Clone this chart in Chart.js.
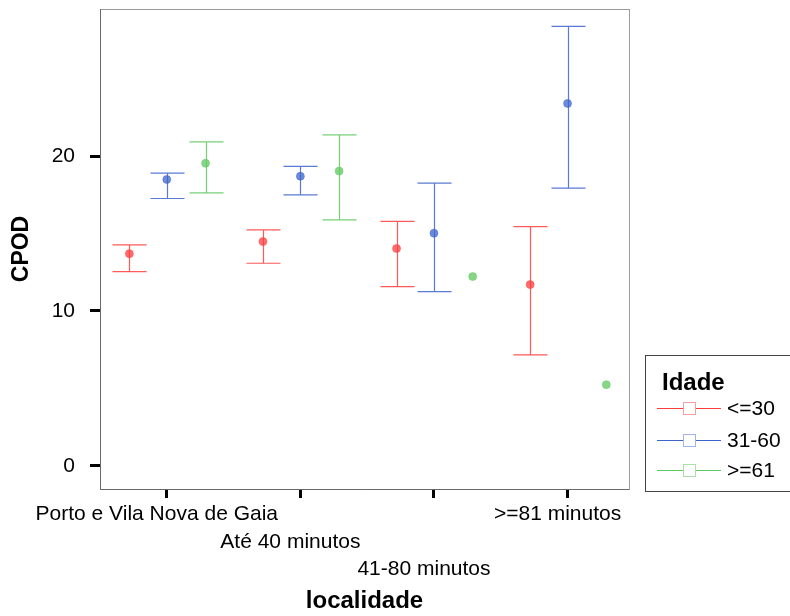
<!DOCTYPE html>
<html>
<head>
<meta charset="utf-8">
<script src="https://cdn.jsdelivr.net/npm/chart.js@4"></script>
<style>
  html, body { margin: 0; padding: 0; background: #fff; }
</style>
</head>
<body>
<canvas id="myChart" width="790" height="616"></canvas>
<script>
// categories on the x axis, and which text row each label sits on
const categories = ['Porto e Vila Nova de Gaia', 'Até 40 minutos', '41-80 minutos', '>=81 minutos'];
const labelRows = [0, 1, 2, 0];

// age groups (legend) and their colours
const groups = ['<=30', '31-60', '>=61'];
const groupColors = ['rgb(255,60,60)', 'rgb(60,100,205)', 'rgb(95,200,95)'];
const groupLight = ['rgb(245,160,160)', 'rgb(160,178,232)', 'rgb(170,222,170)'];

// CPOD means with lower / upper bounds of the interval
const mean30 = [13.70, 14.48, 14.03, 11.70];
const low30  = [12.54, 13.08, 11.57, 7.16];
const high30 = [14.27, 15.23, 15.79, 15.45];

const mean31 = [18.49, 18.70, 15.02, 23.40];
const low31  = [17.26, 17.50, 11.25, 17.93];
const high31 = [18.90, 19.33, 18.25, 28.38];

const mean61 = [19.54, 19.03, 12.22, 5.24];
const low61  = [17.63, 15.88, null, null];
const high61 = [20.92, 21.37, null, null];

const yTicks = [0, 10, 20];

const means = [mean30, mean31, mean61];
const lows = [low30, low31, low61];
const highs = [high30, high31, high61];
const groupOffset = [-0.28, 0, 0.29]; // dodge within each category

const FONT = 'Arial, "Liberation Sans", sans-serif';
Chart.defaults.font.family = FONT;
Chart.defaults.color = '#000';

function withAlpha(rgb, a) {
    return rgb.replace('rgb(', 'rgba(').replace(')', ',' + a + ')');
}

// grey box round the plot area
const frame = {
    id: 'frame',
    afterDraw(chart) {
        const {ctx, chartArea: a} = chart;
        ctx.save();
        ctx.lineWidth = 1;
        ctx.strokeStyle = '#9a9a9a';
        ctx.strokeRect(a.left + 0.5, a.top + 0.5, a.right - a.left, a.bottom - a.top);
        ctx.strokeStyle = '#6a6a6a';
        ctx.beginPath();
        ctx.moveTo(a.left + 0.5, a.top);
        ctx.lineTo(a.left + 0.5, a.bottom + 0.5);
        ctx.lineTo(a.right, a.bottom + 0.5);
        ctx.stroke();
        ctx.restore();
    }
};

// whiskers with caps, drawn under the points
const errorBars = {
    id: 'errorBars',
    beforeDatasetsDraw(chart) {
        const {ctx, scales: {x, y}} = chart;
        const cap = 17;
        ctx.save();
        ctx.lineWidth = 1.2;
        groups.forEach((g, d) => {
            ctx.strokeStyle = withAlpha(groupColors[d], 0.85);
            categories.forEach((c, i) => {
                if (lows[d][i] == null) return;
                const px = Math.round(x.getPixelForValue(i + groupOffset[d])) + 0.5;
                const y1 = y.getPixelForValue(lows[d][i]);
                const y2 = y.getPixelForValue(highs[d][i]);
                ctx.beginPath();
                ctx.moveTo(px, y1);
                ctx.lineTo(px, y2);
                ctx.moveTo(px - cap, y1);
                ctx.lineTo(px + cap, y1);
                ctx.moveTo(px - cap, y2);
                ctx.lineTo(px + cap, y2);
                ctx.stroke();
            });
        });
        ctx.restore();
    }
};

// boxed legend on the right: line with a hollow square
const boxLegend = {
    id: 'boxLegend',
    afterDraw(chart) {
        const ctx = chart.ctx;
        ctx.save();
        ctx.fillStyle = '#fff';
        ctx.fillRect(645, 355, 150, 137);
        ctx.strokeStyle = '#444';
        ctx.lineWidth = 1;
        ctx.strokeRect(645.5, 355.5, 150, 136);

        ctx.fillStyle = '#000';
        ctx.font = 'bold 24px ' + FONT;
        ctx.textBaseline = 'alphabetic';
        ctx.fillText('Idade', 662, 390);

        const rowY = [408, 440, 470];
        ctx.font = '21px ' + FONT;
        ctx.textBaseline = 'middle';
        groups.forEach((g, d) => {
            const yy = rowY[d] + 0.5;
            ctx.strokeStyle = groupColors[d];
            ctx.beginPath();
            ctx.moveTo(657, yy);
            ctx.lineTo(721, yy);
            ctx.stroke();
            ctx.fillStyle = '#fff';
            ctx.fillRect(683, yy - 6, 12, 12);
            ctx.strokeStyle = groupLight[d];
            ctx.strokeRect(683.5, yy - 6, 12, 12);
            ctx.fillStyle = '#000';
            ctx.fillText(g, 727, yy + 1);
        });
        ctx.restore();
    }
};

function createChart() {
    const ctx = document.getElementById('myChart');
    const datasets = groups.map((g, d) => ({
        label: g,
        data: means[d].map((m, i) => ({x: i + groupOffset[d], y: m})),
        pointRadius: 4,
        pointBackgroundColor: withAlpha(groupColors[d], 0.75),
        pointBorderColor: withAlpha(groupColors[d], 0.45),
        pointBorderWidth: 1,
        showLine: false
    }));

    new Chart(ctx, {
        type: 'scatter',
        data: {datasets: datasets},
        plugins: [frame, errorBars, boxLegend],
        options: {
            responsive: false,
            animation: false,
            layout: {padding: {top: 9, right: 161, left: 0, bottom: 0}},
            plugins: {
                legend: {display: false},
                tooltip: {enabled: false}
            },
            scales: {
                x: {
                    type: 'linear',
                    min: -0.5,
                    max: 3.46,
                    afterBuildTicks: s => { s.ticks = categories.map((c, i) => ({value: i})); },
                    afterFit: s => {
                        s.height = 127;
                        s.paddingLeft = 0;
                        s.paddingRight = 0;
                    },
                    border: {display: false},
                    grid: {drawOnChartArea: false, drawTicks: true, tickLength: 9, tickWidth: 3, tickColor: '#000'},
                    ticks: {
                        autoSkip: false,
                        maxRotation: 0,
                        minRotation: 0,
                        padding: 3,
                        labelOffset: -10,
                        color: '#000',
                        font: {size: 21, lineHeight: 1.3},
                        callback: function(val) {
                            const i = Math.round(val);
                            return Array(labelRows[i]).fill('').concat(categories[i]);
                        }
                    },
                    title: {
                        display: true,
                        text: 'localidade',
                        color: '#000',
                        font: {size: 24, weight: 'bold'},
                        padding: {top: 0, bottom: 0}
                    }
                },
                y: {
                    min: -1.5,
                    max: 29.5,
                    afterBuildTicks: s => { s.ticks = yTicks.map(v => ({value: v})); },
                    afterFit: s => {
                        s.width = 100;
                        s.paddingTop = 0;
                        s.paddingBottom = 0;
                    },
                    border: {display: false},
                    grid: {drawOnChartArea: false, drawTicks: true, tickLength: 10, tickWidth: 3, tickColor: '#000'},
                    ticks: {
                        padding: 15,
                        color: '#000',
                        font: {size: 21}
                    },
                    title: {
                        display: true,
                        text: 'CPOD',
                        color: '#000',
                        font: {size: 23, weight: 'bold'},
                        padding: {top: 8, bottom: 0}
                    }
                }
            }
        }
    });
}

createChart();
</script>
</body>
</html>
